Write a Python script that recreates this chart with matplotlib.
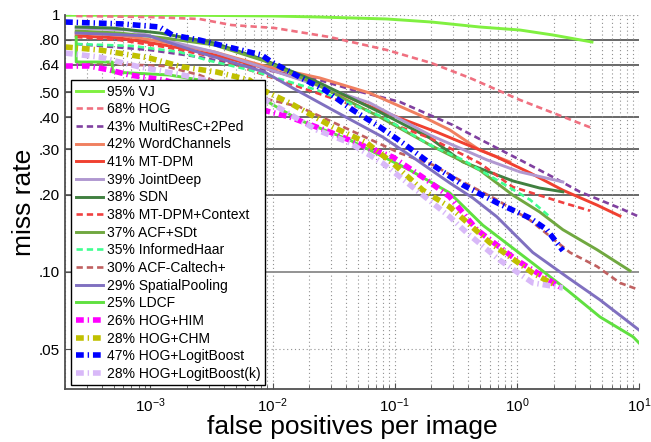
import matplotlib
matplotlib.use("Agg")
import matplotlib.pyplot as plt
from matplotlib.ticker import LogLocator, FixedLocator, FixedFormatter, NullLocator, LogFormatterSciNotation

plt.rcParams['font.family'] = ['Liberation Sans', 'DejaVu Sans']
plt.rcParams['mathtext.fontset'] = 'custom'
plt.rcParams['mathtext.rm'] = 'Liberation Sans'
plt.rcParams['mathtext.it'] = 'Liberation Sans:italic'
plt.rcParams['mathtext.bf'] = 'Liberation Sans:bold'

# ---------------- data (fppi, miss rate) ----------------
vj_x = [2.0e-4, 2.52e-3, 1.0e-2, 2.43e-2, 8.6e-2, 0.2, 0.497, 1.06, 1.97, 4.12]
vj_y = [0.998, 0.997, 0.991, 0.982, 0.965, 0.939, 0.898, 0.874, 0.836, 0.785]

hog_x = [2.47e-4, 9.8e-4, 2.52e-3, 4.61e-3, 1.04e-2, 2.93e-2, 8.6e-2, 0.2, 0.412, 1.06, 4.12]
hog_y = [0.991, 0.982, 0.965, 0.914, 0.890, 0.821, 0.731, 0.650, 0.569, 0.467, 0.363]

mrc_x = [2.47e-4, 4.88e-4, 9.8e-4, 2.52e-3, 6.48e-3, 2.43e-2, 4.53e-2, 0.110, 0.221, 0.299, 0.568, 1.06, 1.97, 3.28, 6.98, 10.0]
mrc_y = [0.771, 0.751, 0.731, 0.686, 0.628, 0.558, 0.511, 0.459, 0.397, 0.373, 0.318, 0.273, 0.234, 0.205, 0.177, 0.164]

wc_x = [2.47e-4, 5.57e-4, 1.30e-3, 3.35e-3, 8.60e-3, 2.43e-2, 6.24e-2, 0.160, 0.282, 0.497, 0.877]
wc_y = [0.851, 0.836, 0.785, 0.718, 0.633, 0.569, 0.497, 0.408, 0.357, 0.298, 0.268]

mtdpm_x = [2.47e-4, 5.57e-4, 1.30e-3, 3.35e-3, 8.60e-3, 2.43e-2, 5.89e-2, 0.110, 0.221, 0.685, 1.28, 2.38, 4.53, 6.98]
mtdpm_y = [0.829, 0.814, 0.764, 0.699, 0.622, 0.534, 0.446, 0.397, 0.350, 0.280, 0.243, 0.208, 0.182, 0.165]

jd_x = [2.47e-4, 6.73e-4, 1.30e-3, 3.35e-3, 8.60e-3, 2.43e-2, 6.24e-2, 0.194, 0.568, 1.06, 2.38]
jd_y = [0.890, 0.874, 0.799, 0.718, 0.622, 0.529, 0.455, 0.341, 0.273, 0.245, 0.224]

sdn_x = [2.47e-4, 4.88e-4, 1.19e-3, 3.35e-3, 8.60e-3, 2.43e-2, 7.53e-2, 0.194, 0.361, 0.927, 1.54, 2.38]
sdn_y = [0.898, 0.890, 0.851, 0.778, 0.668, 0.544, 0.419, 0.332, 0.268, 0.226, 0.212, 0.205]

mtc_x = [2.47e-4, 5.57e-4, 1.30e-3, 3.35e-3, 6.48e-3, 2.30e-2, 5.89e-2, 0.110, 0.194, 0.497, 0.927, 2.38, 3.97]
mtc_y = [0.821, 0.799, 0.751, 0.686, 0.611, 0.497, 0.427, 0.367, 0.332, 0.265, 0.214, 0.186, 0.173]

sdt_x = [2.47e-4, 5.57e-4, 1.30e-3, 3.35e-3, 8.60e-3, 2.43e-2, 7.53e-2, 0.194, 0.497, 0.927, 1.54, 2.38, 4.53, 8.44]
sdt_y = [0.866, 0.851, 0.814, 0.764, 0.662, 0.529, 0.401, 0.312, 0.249, 0.199, 0.171, 0.146, 0.122, 0.101]

ih_x = [2.47e-4, 7.11e-4, 1.73e-3, 2.88e-3, 6.48e-3, 2.30e-2, 7.97e-2, 0.194, 0.361, 0.685, 1.28, 1.86]
ih_y = [0.771, 0.758, 0.718, 0.668, 0.611, 0.511, 0.401, 0.312, 0.273, 0.228, 0.191, 0.164]

acf_x = [2.47e-4, 4.88e-4, 1.30e-3, 2.52e-3, 6.48e-3, 1.66e-2, 4.28e-2, 0.110, 0.205, 0.361, 0.685, 1.28, 2.72, 4.53, 6.98, 10.0]
acf_y = [0.656, 0.645, 0.633, 0.584, 0.488, 0.439, 0.357, 0.290, 0.261, 0.224, 0.191, 0.159, 0.119, 0.105, 0.0906, 0.0851]

sp_x = [2.47e-4, 9.8e-4, 2.43e-3, 4.61e-3, 8.60e-3, 1.46e-2, 3.10e-2, 7.97e-2, 0.151, 0.282, 0.436, 0.685, 1.35, 2.57, 4.79, 10.0]
sp_y = [0.851, 0.829, 0.718, 0.656, 0.600, 0.520, 0.427, 0.335, 0.273, 0.222, 0.194, 0.164, 0.119, 0.0956, 0.0778, 0.0594]

ldcf_x = [2.47e-4, 2.47e-4, 4.88e-4, 4.88e-4, 1.43e-3, 4.44e-3, 8.60e-3, 1.66e-2, 4.28e-2, 0.133, 0.282, 0.526, 1.35, 2.57, 4.79, 8.93, 10.0]
ldcf_y = [0.821, 0.656, 0.656, 0.600, 0.584, 0.534, 0.467, 0.390, 0.326, 0.249, 0.203, 0.152, 0.108, 0.0851, 0.0668, 0.0559, 0.0529]

him_x = [2.0e-4, 3.16e-4, 4.61e-4, 6.73e-4, 1.30e-3, 8.28e-3, 1.38e-2, 3.10e-2, 5.89e-2, 9.64e-2, 0.183, 0.282, 0.470, 1.0, 2.25]
him_y = [0.633, 0.633, 0.611, 0.584, 0.558, 0.427, 0.401, 0.347, 0.306, 0.280, 0.228, 0.196, 0.146, 0.111, 0.0874]

chm_x = [2.0e-4, 3.82e-4, 9.8e-4, 1.83e-3, 3.48e-3, 6.48e-3, 8.28e-3, 1.38e-2, 3.10e-2, 5.89e-2, 9.64e-2, 0.170, 0.282, 0.601, 1.35, 1.97]
chm_y = [0.751, 0.731, 0.680, 0.628, 0.600, 0.558, 0.511, 0.455, 0.367, 0.318, 0.265, 0.208, 0.179, 0.130, 0.099, 0.0898]

lb_x = [2.0e-4, 5.89e-4, 1.19e-3, 1.51e-3, 2.52e-3, 4.70e-3, 8.13e-3, 9.82e-3, 1.66e-2, 2.67e-2, 4.53e-2, 7.53e-2, 0.116, 0.194, 0.361, 0.685, 1.28, 1.76, 2.38]
lb_y = [0.939, 0.923, 0.898, 0.836, 0.799, 0.744, 0.699, 0.656, 0.574, 0.511, 0.427, 0.367, 0.318, 0.265, 0.218, 0.186, 0.162, 0.146, 0.121]

lbk_x = [2.0e-4, 3.82e-4, 8.12e-4, 1.83e-3, 3.48e-3, 8.28e-3, 1.21e-2, 2.30e-2, 4.28e-2, 7.97e-2, 0.151, 0.282, 0.389, 0.726, 1.35, 2.38]
lbk_y = [0.711, 0.686, 0.628, 0.584, 0.544, 0.475, 0.427, 0.357, 0.318, 0.265, 0.208, 0.164, 0.142, 0.111, 0.0906, 0.0866]

labels = ['95% VJ', '68% HOG', '43% MultiResC+2Ped', '42% WordChannels', '41% MT-DPM',
          '39% JointDeep', '38% SDN', '38% MT-DPM+Context', '37% ACF+SDt', '35% InformedHaar',
          '30% ACF-Caltech+', '29% SpatialPooling', '25% LDCF', '26% HOG+HIM', '28% HOG+CHM',
          '47% HOG+LogitBoost', '28% HOG+LogitBoost(k)']
xs = [vj_x, hog_x, mrc_x, wc_x, mtdpm_x, jd_x, sdn_x, mtc_x, sdt_x, ih_x, acf_x, sp_x, ldcf_x, him_x, chm_x, lb_x, lbk_x]
ys = [vj_y, hog_y, mrc_y, wc_y, mtdpm_y, jd_y, sdn_y, mtc_y, sdt_y, ih_y, acf_y, sp_y, ldcf_y, him_y, chm_y, lb_y, lbk_y]
colors = ['#80F040', '#F07080', '#8040A0', '#F08060', '#F04030', '#B098D0', '#408040', '#F04040',
          '#70A840', '#40FF90', '#C06060', '#8070C0', '#60E040', '#FF00FF', '#C0C000', '#0000FF', '#D8B8F8']
styles = ['solid', 'dash', 'dash', 'solid', 'solid', 'solid', 'solid', 'dash', 'solid', 'dash',
          'dash', 'solid', 'solid', 'dashdot', 'dashdot', 'dashdot', 'dashdot']

yticks = [0.05, 0.10, 0.20, 0.30, 0.40, 0.50, 0.64, 0.80, 1.0]
yticklabels = ['.05', '.10', '.20', '.30', '.40', '.50', '.64', '.80', '1']

# ---------------- figure ----------------
fig = plt.figure(figsize=(6.51, 4.42), dpi=100)
ax = fig.add_axes([65/651, 1-389/442, (639-65)/651, (389-15)/442])
ax.set_xscale('log')
ax.set_yscale('log')
ax.set_xlim(2e-4, 10)
ax.set_ylim(0.035, 1.0)

# grid
ax.xaxis.set_major_locator(LogLocator(base=10, numticks=20))
ax.xaxis.set_minor_locator(LogLocator(base=10, subs=range(2, 10), numticks=20))
ax.xaxis.set_major_formatter(LogFormatterSciNotation())
ax.grid(True, which='both', axis='x', linestyle=(0, (1, 2.5)), color='#909090', linewidth=0.8)
for yv in yticks:
    if yv in (0.05, 1.0):
        ax.axhline(yv, color='#909090', linestyle=(0, (1, 2.5)), linewidth=0.8, zorder=0.5)
    elif yv == 0.10:
        ax.axhline(yv, color='#808080', linewidth=1.2, zorder=0.5)
    else:
        ax.axhline(yv, color='#404040', linewidth=1.1, zorder=0.5)

ax.yaxis.set_major_locator(FixedLocator(yticks))
ax.yaxis.set_major_formatter(FixedFormatter(yticklabels))
ax.yaxis.set_minor_locator(NullLocator())

for x, y, c, s, lab in zip(xs, ys, colors, styles, labels):
    if s == 'solid':
        ax.plot(x, y, color=c, linewidth=2.1, label=lab, solid_joinstyle='round')
    elif s == 'dash':
        ax.plot(x, y, color=c, linewidth=1.9, dashes=(2.4, 1.5), label=lab)
    else:
        ax.plot(x, y, color=c, linewidth=4.0, dashes=(1.4, 0.7, 0.25, 0.7), label=lab,
                dash_capstyle='butt')

for sp in ['top', 'right']:
    ax.spines[sp].set_visible(False)
for sp in ['left', 'bottom']:
    ax.spines[sp].set_color('#505050')
    ax.spines[sp].set_linewidth(1.3)

ax.tick_params(which='both', direction='in', colors='#505050', labelcolor='black')
ax.tick_params(which='major', length=4, labelsize=11)
ax.tick_params(which='minor', length=3)
ax.tick_params(axis='x', which='major', pad=5)

ax.set_xlabel('false positives per image', fontsize=19, labelpad=0)
ax.set_ylabel('miss rate', fontsize=19, labelpad=2)

leg = ax.legend(loc='upper left', bbox_to_anchor=(6/574, 309/374), borderaxespad=0,
                fontsize=10, handlelength=2.0, handletextpad=0.25, labelspacing=0.262,
                borderpad=0.33, frameon=True, fancybox=False, framealpha=1.0)
leg.get_frame().set_edgecolor('black')
leg.get_frame().set_linewidth(1.0)

fig.savefig('out.png', dpi=100)
